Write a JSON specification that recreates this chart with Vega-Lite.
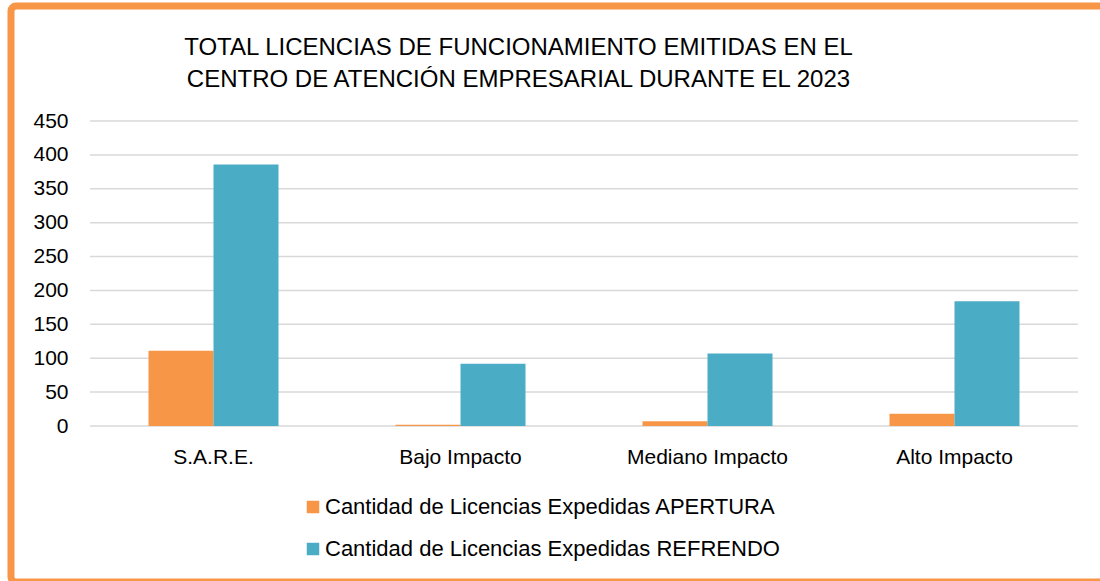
{
  "$schema": "https://vega.github.io/schema/vega-lite/v6.json",
  "width": 1095,
  "height": 576,
  "autosize": {"type": "none"},
  "padding": {"left": 11, "top": 6, "right": -6, "bottom": -1},
  "background": "white",
  "title": {
    "text": ["TOTAL LICENCIAS DE FUNCIONAMIENTO EMITIDAS EN EL", "CENTRO DE ATENCIÓN EMPRESARIAL DURANTE EL 2023"],
    "anchor": "middle",
    "frame": "group",
    "dx": -40,
    "offset": -105,
    "baseline": "alphabetic",
    "lineHeight": 32,
    "font": "Liberation Sans",
    "fontSize": 24,
    "fontWeight": "normal",
    "color": "#000000"
  },
  "layer": [
    {
      "data": {"values": [
        {"v": 0}, {"v": 50}, {"v": 100}, {"v": 150}, {"v": 200},
        {"v": 250}, {"v": 300}, {"v": 350}, {"v": 400}, {"v": 450}
      ]},
      "mark": {"type": "rule", "color": "#D9D9D9", "strokeWidth": 1.5},
      "encoding": {
        "x": {"datum": "S.A.R.E.", "type": "nominal", "bandPosition": 0},
        "x2": {"datum": "Alto Impacto", "bandPosition": 1},
        "y": {"field": "v", "type": "quantitative"}
      }
    },
    {
      "data": {"values": [
        {"categoria": "S.A.R.E.", "serie": "Cantidad de Licencias Expedidas APERTURA", "valor": 111},
        {"categoria": "S.A.R.E.", "serie": "Cantidad de Licencias Expedidas REFRENDO", "valor": 386},
        {"categoria": "Bajo Impacto", "serie": "Cantidad de Licencias Expedidas APERTURA", "valor": 2},
        {"categoria": "Bajo Impacto", "serie": "Cantidad de Licencias Expedidas REFRENDO", "valor": 92},
        {"categoria": "Mediano Impacto", "serie": "Cantidad de Licencias Expedidas APERTURA", "valor": 7},
        {"categoria": "Mediano Impacto", "serie": "Cantidad de Licencias Expedidas REFRENDO", "valor": 107},
        {"categoria": "Alto Impacto", "serie": "Cantidad de Licencias Expedidas APERTURA", "valor": 18},
        {"categoria": "Alto Impacto", "serie": "Cantidad de Licencias Expedidas REFRENDO", "valor": 184}
      ]},
      "mark": {"type": "bar"},
      "encoding": {
        "x": {
          "field": "categoria",
          "type": "nominal",
          "sort": null,
          "title": null,
          "scale": {
            "domain": ["S.A.R.E.", "Bajo Impacto", "Mediano Impacto", "Alto Impacto"],
            "range": [79, 1067],
            "paddingInner": 0,
            "paddingOuter": 0
          },
          "axis": {
            "orient": "bottom",
            "offset": -136,
            "domain": false,
            "ticks": false,
            "labelPadding": 0,
            "labelAngle": 0,
            "labelAlign": "center",
            "bandPosition": 0.5,
            "labelFont": "Liberation Sans",
            "labelFontSize": 21,
            "labelColor": "#000000",
            "labelBaseline": "top",
            "title": null
          }
        },
        "xOffset": {
          "field": "serie",
          "type": "nominal",
          "scale": {
            "domain": ["Cantidad de Licencias Expedidas APERTURA", "Cantidad de Licencias Expedidas REFRENDO"],
            "paddingInner": 0,
            "paddingOuter": 0.9
          }
        },
        "y": {
          "field": "valor",
          "type": "quantitative",
          "scale": {"domain": [0, 450], "range": [420, 115], "nice": false},
          "axis": {
            "values": [0, 50, 100, 150, 200, 250, 300, 350, 400, 450],
            "offset": -57,
            "domain": false,
            "ticks": false,
            "grid": false,
            "labelPadding": 0,
            "labelFont": "Liberation Sans",
            "labelFontSize": 21,
            "labelColor": "#000000",
            "title": null
          }
        },
        "color": {
          "field": "serie",
          "type": "nominal",
          "scale": {
            "domain": ["Cantidad de Licencias Expedidas APERTURA", "Cantidad de Licencias Expedidas REFRENDO"],
            "range": ["#F79646", "#4BACC6"]
          },
          "legend": {
            "title": null,
            "orient": "none",
            "legendX": 291,
            "legendY": 490,
            "direction": "vertical",
            "symbolType": "square",
            "symbolSize": 156,
            "symbolStrokeWidth": 0,
            "labelFont": "Liberation Sans",
            "labelFontSize": 22,
            "labelColor": "#000000",
            "labelOffset": 1,
            "labelLimit": 0,
            "rowPadding": 20
          }
        }
      }
    }
  ],
  "config": {
    "view": {"stroke": "#F79646", "strokeWidth": 7, "cornerRadius": 5, "fill": "white"}
  }
}
